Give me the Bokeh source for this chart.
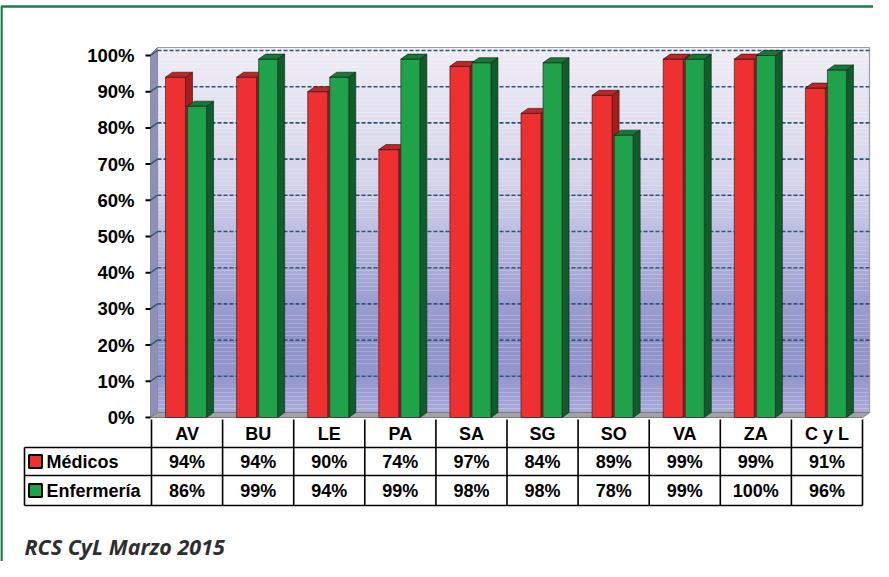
import numpy as np
from bokeh.plotting import figure
from bokeh.models import Range1d
from bokeh.core.properties import value
from bokeh.embed import file_html
from bokeh.resources import INLINE

# ---------------- data ----------------
categories = ["AV", "BU", "LE", "PA", "SA", "SG", "SO", "VA", "ZA", "C y L"]
medicos = [94, 94, 90, 74, 97, 84, 89, 99, 99, 91]
enfermeria = [86, 99, 94, 99, 98, 98, 78, 99, 100, 96]
series_names = ["Médicos", "Enfermería"]
tick_values = [0, 10, 20, 30, 40, 50, 60, 70, 80, 90, 100]
tick_labels = ["0%", "10%", "20%", "30%", "40%", "50%", "60%", "70%", "80%", "90%", "100%"]
source_text = "RCS CyL Marzo 2015"

# ---------------- layout helpers ----------------
W, H = 873, 561
COL = 71.1   # px per category
PCT = 3.62   # px per percent
X0, Y0 = 159, 425


def ux(px):
    return (px - X0) / COL


def uy(py):
    return (Y0 - py) / PCT


DX = 7 / COL
DY = 5 / PCT
AX = ux(158)
N = len(categories)
WALL_TOP = uy(55)

FONT = value("Liberation Sans")
RED, RED_TOP, RED_SIDE = "#ee3030", "#c42424", "#a81c1c"
GRN, GRN_TOP, GRN_SIDE = "#1ea34b", "#137a36", "#0c5f2a"

p = figure(width=W, height=H, x_range=Range1d(ux(8), ux(8 + W)),
           y_range=Range1d(uy(8 + H), uy(8)), output_backend="svg",
           toolbar_location=None, x_axis_type=None, y_axis_type=None,
           min_border=0)
p.grid.visible = False
p.outline_line_color = None
p.background_fill_color = "white"
p.border_fill_color = "white"

# frame (green border)
p.line([ux(9), ux(9), ux(900)], [uy(600), uy(14), uy(14)],
       line_color="#1f7a4c", line_width=2.5)

# ---------------- back wall gradient ----------------
stops = [(0.0, (240, 237, 245)), (0.35, (214, 213, 235)), (0.5, (190, 190, 226)),
         (0.62, (166, 168, 214)), (0.8, (143, 146, 201)), (0.9, (148, 151, 205)),
         (1.0, (168, 170, 217))]


def grad(f):
    for (f0, c0), (f1, c1) in zip(stops[:-1], stops[1:]):
        if f0 <= f <= f1:
            t = (f - f0) / (f1 - f0)
            c = [int(round(a + (b - a) * t)) for a, b in zip(c0, c1)]
            return "#%02x%02x%02x" % tuple(c)
    return "#%02x%02x%02x" % stops[-1][1]


nb = 90
edges = np.linspace(WALL_TOP, DY, nb + 1)
cols = [grad((i + 0.5) / nb) for i in range(nb)]
p.quad(left=AX + DX, right=N + DX, top=edges[:-1], bottom=edges[1:],
       fill_color=cols, line_color=None)
p.line([AX + DX, N + DX, N + DX], [WALL_TOP, WALL_TOP, DY],
       line_color="#9a9ab0", line_width=1.2)

# left side wall
p.patch([AX, AX + DX, AX + DX, AX], [0, DY, WALL_TOP, uy(62)],
        fill_color="#8d90b8", line_color="#8a8aa0", line_width=1)

# floor
p.patch([AX, N, N + DX, AX + DX], [0, 0, DY, DY],
        fill_color="#a2a2a6", line_color="#7a7a80", line_width=1)

# gridlines
gv = tick_values[1:]
p.multi_line([[AX + DX, N + DX] for v in gv], [[v + DY, v + DY] for v in gv],
             line_color="#2c5674", line_width=1.6, line_dash="4 2")
p.multi_line([[AX, AX + DX] for v in gv], [[v, v + DY] for v in gv],
             line_color="#2c5674", line_width=1.4)

# ticks and labels
p.multi_line([[ux(153), AX] for v in tick_values], [[v, v] for v in tick_values],
             line_color="black", line_width=2)
p.text(x=[ux(142)] * len(tick_values), y=tick_values, text=tick_labels,
       text_font=FONT, text_font_style="bold", text_font_size="18.5px",
       text_align="right", text_baseline="middle", text_color="black")

# ---------------- bars ----------------
def bars(vals, off0, off1, front, top, side):
    x0 = [i + off0 for i in range(N)]
    x1 = [i + off1 for i in range(N)]
    p.patches([[a, a + DX, a + DX, a] for a in x1],
              [[0, DY, v + DY, v] for v in vals],
              fill_color=side, line_color="#1a1a1a", line_width=0.8, line_alpha=0.8)
    p.quad(left=x0, right=x1, bottom=0, top=vals, fill_color=front,
           line_color="#2a1a1a", line_width=0.8, line_alpha=0.8)
    p.patches([[a, b, b + DX, a + DX] for a, b in zip(x0, x1)],
              [[v, v, v + DY, v + DY] for v in vals],
              fill_color=top, line_color="#1a1a1a", line_width=0.8, line_alpha=0.8)


bars(medicos, 0.197, 0.478, RED, RED_TOP, RED_SIDE)
bars(enfermeria, 0.507, 0.774, GRN, GRN_TOP, GRN_SIDE)

# ---------------- data table ----------------
ry = [uy(427), uy(455), uy(483), uy(513)]
LX = ux(32)
hx = [[LX, N], [LX, N], [LX, N]]
hy = [[ry[1], ry[1]], [ry[2], ry[2]], [ry[3], ry[3]]]
vx = [[i, i] for i in range(N + 1)] + [[LX, LX]]
vy = [[ry[0], ry[3]] for i in range(N + 1)] + [[ry[1], ry[3]]]
p.multi_line(hx + vx, hy + vy, line_color="black", line_width=1.6)

centers = [i + 0.5 for i in range(N)]
row_mid = [uy(441), uy(469), uy(498)]
txt = dict(text_font=FONT, text_font_style="bold", text_font_size="18px",
           text_baseline="middle", text_color="black")
p.text(x=centers, y=[row_mid[0]] * N, text=categories, text_align="center", **txt)
p.text(x=centers, y=[row_mid[1]] * N, text=[f"{v}%" for v in medicos],
       text_align="center", **txt)
p.text(x=centers, y=[row_mid[2]] * N, text=[f"{v}%" for v in enfermeria],
       text_align="center", **txt)

# legend keys
p.rect(x=[ux(43), ux(43)], y=[row_mid[1], row_mid[2]], width=13 / COL, height=13 / PCT,
       fill_color=[RED, GRN], line_color="black", line_width=2)
p.text(x=[ux(54), ux(54)], y=[row_mid[1], row_mid[2]], text=series_names,
       text_align="left", **txt)

# source
p.text(x=[ux(32)], y=[uy(554)], text=[source_text], text_font=value("Open Sans"),
       text_font_style="bold italic", text_font_size="21.5px", text_align="left",
       text_baseline="middle", text_color="#2e2e2e")

open("out.html", "w").write(file_html(p, INLINE))
